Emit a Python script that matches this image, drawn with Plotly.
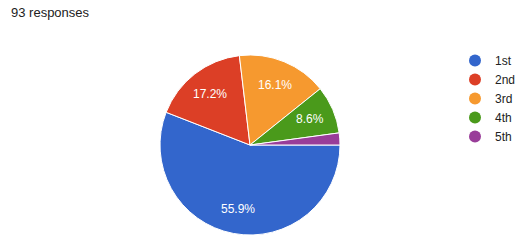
import math
import plotly.graph_objects as go

title_text = "93 responses"
categories = ["1st", "2nd", "3rd", "4th", "5th"]
counts = [52, 16, 15, 8, 2]
colors = ["#3366cc", "#dc3f26", "#f6992f", "#4a9a1b", "#993d99"]

W, H = 523, 249
font_family = "Arial, 'Liberation Sans', sans-serif"

# pie geometry (pixels)
CX, CY, R = 250, 145, 90
START_DEG = 90  # first slice starts at 3 o'clock, going clockwise
LABEL_R = 0.72
MIN_SHARE = 0.05

fig = go.Figure()
fig.add_trace(go.Pie(
    labels=categories,
    values=counts,
    marker=dict(colors=colors, line=dict(color="white", width=1)),
    sort=False,
    direction="clockwise",
    rotation=START_DEG,
    textinfo="none",
    domain=dict(x=[(CX - R) / W, (CX + R) / W], y=[(H - CY - R) / H, (H - CY + R) / H]),
    showlegend=False,
    hoverinfo="label+value+percent",
))

# percentage labels placed along each slice's bisector
total = sum(counts)
annotations = []
acc = 0.0
for v in counts:
    share = v / total
    mid = math.radians(START_DEG + 360 * (acc + share / 2))
    acc += share
    if share < MIN_SHARE:
        continue
    px = CX + LABEL_R * R * math.sin(mid)
    py = CY - LABEL_R * R * math.cos(mid)
    annotations.append(dict(
        text=f"{share * 100:.1f}%", x=px / W, y=1 - py / H,
        xref="paper", yref="paper", xanchor="center", yanchor="middle",
        showarrow=False, font=dict(size=12, color="white", family=font_family),
    ))

annotations.append(dict(
    text=title_text, x=9 / W, y=1 - 13 / H, xref="paper", yref="paper",
    xanchor="left", yanchor="middle", showarrow=False,
    font=dict(size=13, color="#212121", family=font_family),
))

for cat, col in zip(categories, colors):
    fig.add_trace(go.Scatter(
        x=[None], y=[None], mode="markers", name=cat,
        marker=dict(symbol="circle", size=12, color=col),
        showlegend=True,
    ))

fig.update_layout(
    width=W, height=H,
    margin=dict(l=0, r=0, t=0, b=0),
    paper_bgcolor="white",
    plot_bgcolor="white",
    font=dict(family=font_family, color="#222222"),
    xaxis=dict(visible=False),
    yaxis=dict(visible=False),
    legend=dict(
        x=455 / W, xanchor="left",
        y=1 - 46 / H, yanchor="top",
        font=dict(size=12, color="#222222", family=font_family),
        bgcolor="rgba(0,0,0,0)",
        tracegroupgap=0,
    ),
    annotations=annotations,
)

fig.write_html("out.html")
